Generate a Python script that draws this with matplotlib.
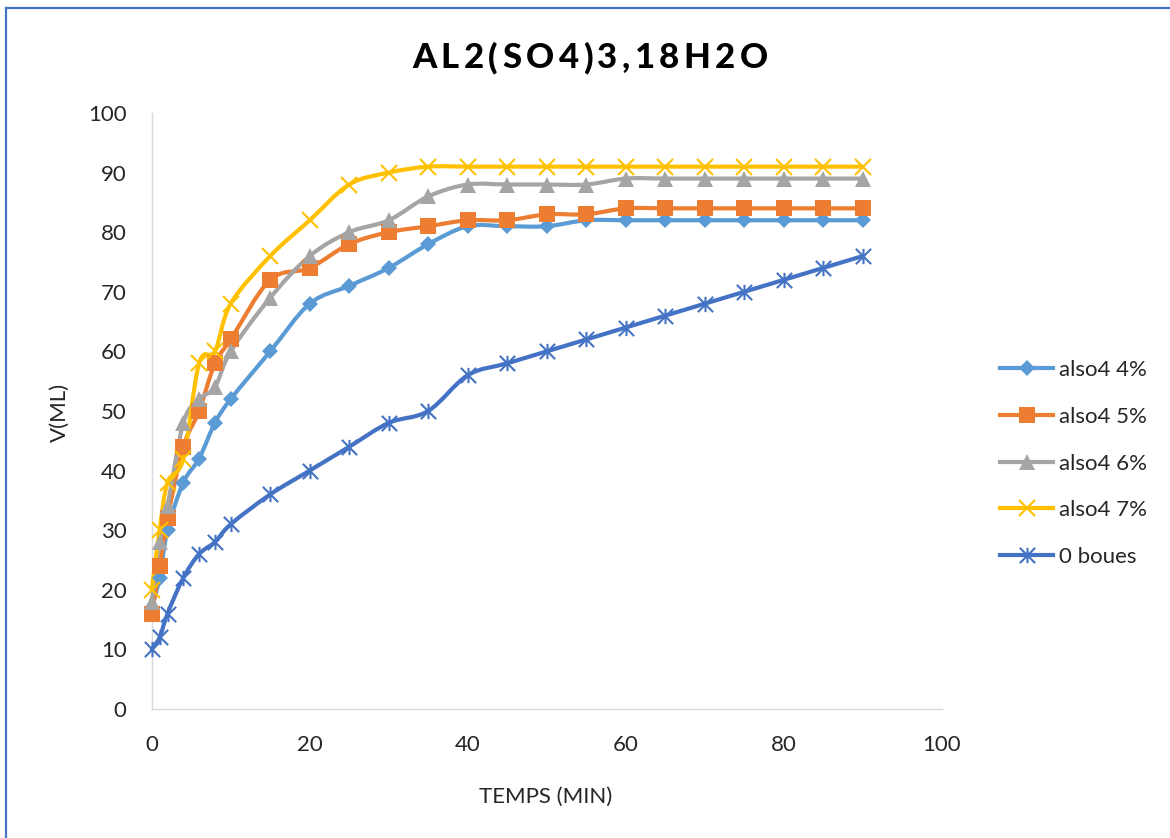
import numpy as np
import matplotlib.pyplot as plt
from matplotlib.path import Path
from matplotlib.patches import PathPatch
from matplotlib.lines import Line2D

# data
temps = [0, 1, 2, 4, 6, 8, 10, 15, 20, 25, 30, 35, 40, 45, 50, 55, 60, 65, 70, 75, 80, 85, 90]
v_4 = [17, 22, 30, 38, 42, 48, 52, 60, 68, 71, 74, 78, 81, 81, 81, 82, 82, 82, 82, 82, 82, 82, 82]
v_5 = [16, 24, 32, 44, 50, 58, 62, 72, 74, 78, 80, 81, 82, 82, 83, 83, 84, 84, 84, 84, 84, 84, 84]
v_6 = [18, 28, 34, 48, 52, 54, 60, 69, 76, 80, 82, 86, 88, 88, 88, 88, 89, 89, 89, 89, 89, 89, 89]
v_7 = [20, 30, 38, 42, 58, 60, 68, 76, 82, 88, 90, 91, 91, 91, 91, 91, 91, 91, 91, 91, 91, 91, 91]
v_0 = [10, 12, 16, 22, 26, 28, 31, 36, 40, 44, 48, 50, 56, 58, 60, 62, 64, 66, 68, 70, 72, 74, 76]

labels = ['also4 4%', 'also4 5%', 'also4 6%', 'also4 7%', '0 boues']
colors = ['#5B9BD5', '#ED7D31', '#A5A5A5', '#FFC000', '#4472C4']

# excel style "star" marker: an x with a vertical bar
star = Path([(-1, -1), (1, 1), (-1, 1), (1, -1), (0, -1), (0, 1)],
            [Path.MOVETO, Path.LINETO, Path.MOVETO, Path.LINETO, Path.MOVETO, Path.LINETO])

styles = [
    dict(marker='D', ms=8, mew=0),
    dict(marker='s', ms=11.5, mew=0),
    dict(marker='^', ms=12, mew=0),
    dict(marker='x', ms=11, mew=1.5),
    dict(marker=star, ms=11, mew=1.5),
]

W, H = 1170, 838
plt.rcParams['font.family'] = ['Lato', 'DejaVu Sans']


def smooth_path(x, y):
    # bezier curve through the points, like excel's smoothed line
    p = np.column_stack([x, y]).astype(float)
    n = len(p)
    verts = [p[0]]
    codes = [Path.MOVETO]
    for i in range(n - 1):
        p0 = p[max(i - 1, 0)]
        p3 = p[min(i + 2, n - 1)]
        c1 = p[i] + (p[i + 1] - p0) / 6.0
        c2 = p[i + 1] - (p3 - p[i]) / 6.0
        verts += [c1, c2, p[i + 1]]
        codes += [Path.CURVE4] * 3
    return Path(verts, codes)


fig = plt.figure(figsize=(W / 100, H / 100), dpi=100)
ax = fig.add_axes([151.7 / W, 1 - 709 / H, 790 / W, 596 / H])

handles = []
for vals, lab, col, st in zip([v_4, v_5, v_6, v_7, v_0], labels, colors, styles):
    ax.add_patch(PathPatch(smooth_path(temps, vals), fill=False, edgecolor=col,
                           lw=3.0, capstyle='round', joinstyle='round', clip_on=False))
    ax.plot(temps, vals, ls='none', color=col, marker=st['marker'], ms=st['ms'],
            mew=st['mew'], mec=col, mfc=col, clip_on=False)
    handles.append(Line2D([], [], color=col, lw=3.0, marker=st['marker'], ms=st['ms'],
                          mew=st['mew'], mec=col, mfc=col))

ax.set_xlim(0, 100)
ax.set_ylim(0, 100)
ax.set_xticks(range(0, 101, 20))
ax.set_yticks(range(0, 101, 10))
ax.tick_params(length=0, labelsize=16, colors='#262626')
ax.tick_params(axis='y', pad=18)
ax.tick_params(axis='x', pad=19)
for s in ['top', 'right']:
    ax.spines[s].set_visible(False)
for s in ['left', 'bottom']:
    ax.spines[s].set_color('#D9D9D9')
    ax.spines[s].set_linewidth(1.0)
    ax.spines[s].set_zorder(0)

# axis titles
fig.text(546 / W, 1 - 797 / H, 'TEMPS (MIN)', ha='center', va='center', fontsize=16, color='#262626')
fig.text(60 / W, 1 - 412 / H, 'V(ML)', ha='center', va='center', rotation=90, fontsize=16, color='#262626')

# title, drawn letter by letter to get the wide spacing
title = 'AL2(SO4)3,18H2O'
renderer = fig.canvas.get_renderer()
parts = []
total = 0
for ch in title:
    t = fig.text(0, 1 - 58 / H, ch, fontsize=25, fontweight='black', va='center', ha='left')
    w = t.get_window_extent(renderer).width
    parts.append((t, w))
    total += w
gap = (356 - total) / (len(title) - 1)
xpos = 590 - 356 / 2
for t, w in parts:
    t.set_x(xpos / W)
    xpos += w + gap

fig.legend(handles, labels, loc='center left', bbox_to_anchor=(1000 / W, 1 - 463.5 / H),
           frameon=False, fontsize=16, handlelength=2.4, handletextpad=0.27,
           labelspacing=1.2, borderpad=0, borderaxespad=0, labelcolor='#262626')

# chart border (only top and left are in the picture)
fig.add_artist(Line2D([6 / W, 1], [1 - 8 / H, 1 - 8 / H], color='#4472C4', lw=1.6))
fig.add_artist(Line2D([6 / W, 6 / W], [0, 1 - 8 / H], color='#4472C4', lw=1.6))

fig.savefig('out.png', dpi=100)
